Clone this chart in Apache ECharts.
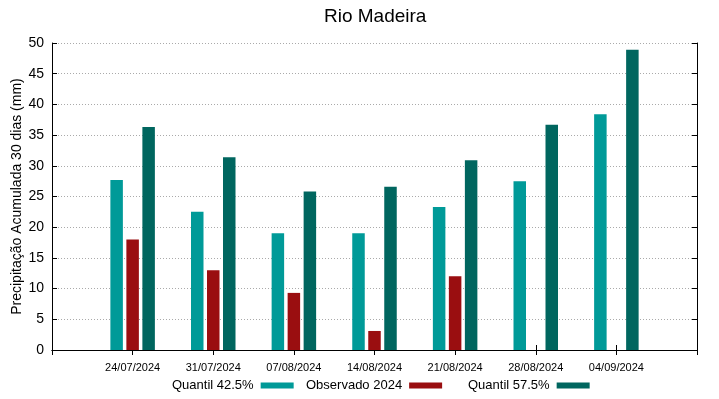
<!DOCTYPE html>
<html>
<head>
<meta charset="utf-8">
<script src="https://cdn.jsdelivr.net/npm/echarts@6/dist/echarts.min.js"></script>
<style>
    html, body { margin: 0; padding: 0; background: #fff; }
    #chart { width: 719px; height: 399px; }
</style>
</head>
<body>
<div id="chart"></div>
<script>
// datas da semana (eixo x)
const categories = ['24/07/2024', '31/07/2024', '07/08/2024', '14/08/2024', '21/08/2024', '28/08/2024', '04/09/2024'];
// valores (mm)
const quantil425 = [27.7, 22.5, 19.0, 19.0, 23.3, 27.5, 38.4];
const observado2024 = [18.0, 13.0, 9.3, 3.1, 12.0, null, null];
const quantil575 = [36.3, 31.4, 25.8, 26.6, 30.9, 36.7, 48.9];
const yTicks = [0, 5, 10, 15, 20, 25, 30, 35, 40, 45, 50];
const seriesNames = ['Quantil 42.5%', 'Observado 2024', 'Quantil 57.5%'];

const FONT = 'Liberation Sans';
const colors = ['#009a98', '#9a0e10', '#00665f'];

// uma categoria vazia de cada lado, como no gráfico original (eixo de 0 a 8)
const xData = [''].concat(categories, ['']);
const pad = arr => [null].concat(arr, [null]);

const chart = echarts.init(document.getElementById('chart'));

const tickInside = { show: true, inside: true, length: 5, lineStyle: { color: '#000' } };
const lineBlack = { show: true, lineStyle: { color: '#000', width: 1 } };

const barBase = {
    type: 'bar',
    barWidth: 12.5,
    barGap: '28%',
    xAxisIndex: 0,
    yAxisIndex: 0
};

// legenda em colunas fixas (texto à esquerda, amostra à direita)
const legendLeft = [172, 306, 468];
const legends = seriesNames.map((name, i) => ({
    left: legendLeft[i],
    top: 379,
    padding: 0,
    align: 'right',
    itemWidth: 33,
    itemHeight: 6,
    icon: 'rect',
    textStyle: { fontFamily: FONT, fontSize: 13, color: '#000', padding: [0, 2, 0, 0] },
    data: [name]
}));

chart.setOption({
    animation: false,
    color: colors,
    textStyle: { fontFamily: FONT },
    title: {
        text: 'Rio Madeira',
        left: 319,
        top: 2,
        textStyle: { fontFamily: FONT, fontSize: 19, fontWeight: 'normal', color: '#000' }
    },
    legend: legends,
    grid: { left: 52, right: 22, top: 43, bottom: 49, outerBoundsMode: 'none' },
    xAxis: [{
        type: 'category',
        data: xData,
        boundaryGap: false,
        axisLine: lineBlack,
        axisTick: tickInside,
        axisLabel: { fontFamily: FONT, fontSize: 11, color: '#000', margin: 12, interval: 0 },
        splitLine: { show: false }
    }, {
        type: 'category',
        data: xData,
        position: 'top',
        boundaryGap: false,
        axisLine: lineBlack,
        axisTick: tickInside,
        axisLabel: { show: false },
        splitLine: { show: false }
    }],
    yAxis: [{
        type: 'value',
        min: yTicks[0],
        max: yTicks[yTicks.length - 1],
        interval: 5,
        name: 'Precipitação Acumulada 30 dias (mm)',
        nameLocation: 'middle',
        nameGap: 28,
        nameMoveOverlap: false,
        nameTextStyle: { fontFamily: FONT, fontSize: 14, color: '#000' },
        axisLine: lineBlack,
        axisTick: tickInside,
        axisLabel: { fontFamily: FONT, fontSize: 14, color: '#000', margin: 8 },
        splitLine: { show: true, lineStyle: { color: '#aaa', type: [1, 2], width: 1 } }
    }, {
        type: 'value',
        min: yTicks[0],
        max: yTicks[yTicks.length - 1],
        interval: 5,
        position: 'right',
        axisLine: lineBlack,
        axisTick: tickInside,
        axisLabel: { show: false },
        splitLine: { show: false }
    }],
    series: seriesNames.map((name, i) =>
        Object.assign({}, barBase, { name: name, data: pad([quantil425, observado2024, quantil575][i]) })
    )
});
</script>
</body>
</html>
